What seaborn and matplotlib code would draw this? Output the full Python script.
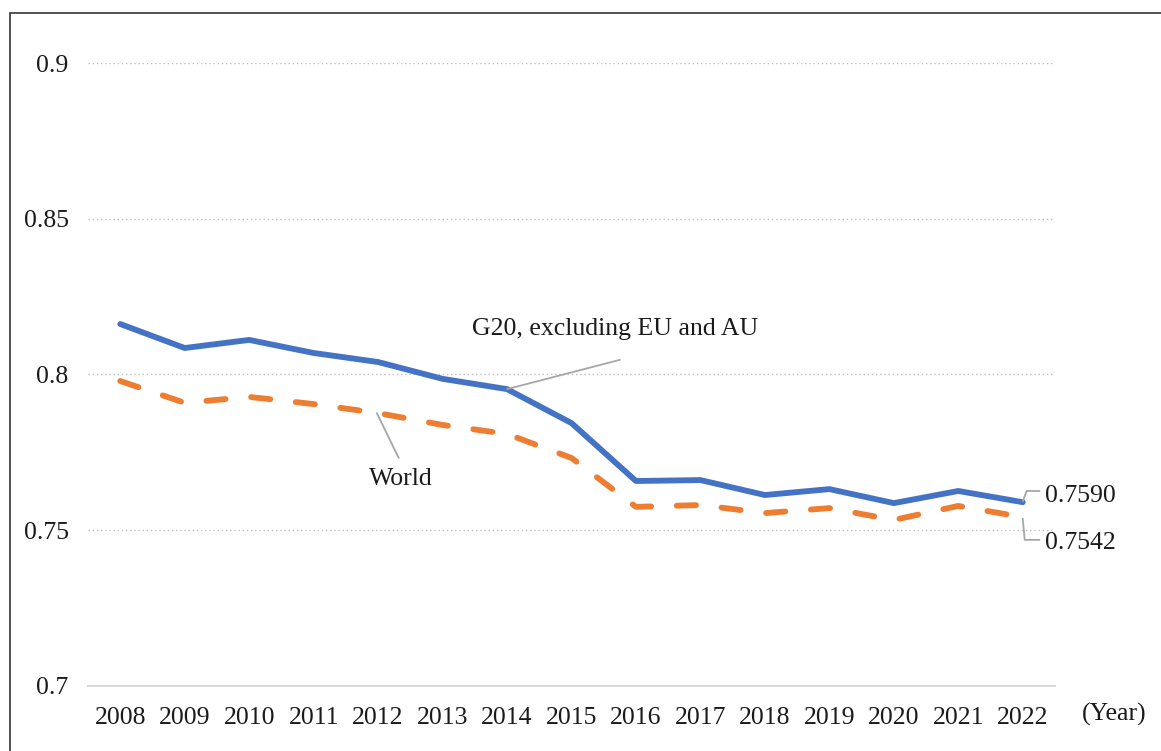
import pandas as pd
import seaborn as sns
import matplotlib.pyplot as plt
from matplotlib.patches import Rectangle

anos = list(range(2008, 2023))
g20 = [0.8162, 0.8085, 0.8111, 0.8069, 0.8040, 0.7986, 0.7953, 0.7844,
       0.7658, 0.7661, 0.7613, 0.7632, 0.7587, 0.7626, 0.7590]
mundo = [0.7979, 0.7909, 0.7928, 0.7905, 0.7876, 0.7838, 0.7809, 0.7732,
         0.7575, 0.7581, 0.7555, 0.7571, 0.7533, 0.7578, 0.7542]
yticks = [0.7, 0.75, 0.8, 0.85, 0.9]
ytick_labels = ['0.7', '0.75', '0.8', '0.85', '0.9']

df = pd.DataFrame({'Ano': anos, 'G20': g20, 'Mundo': mundo})

azul = '#4472C4'
laranja = '#ED7D31'
cinza = '#A6A6A6'
texto = '#1a1a1a'
fs = 18.5

sns.set_theme(style="white")
plt.rcParams['font.family'] = ['Liberation Serif', 'DejaVu Serif']

fig = plt.figure(figsize=(11.61, 7.51), dpi=100)
ax = fig.add_axes([0.0758, 0.0866, 0.9087 - 0.0758, 0.9161 - 0.0866])

sns.lineplot(data=df, x='Ano', y='G20', color=azul, linewidth=4.2, ax=ax,
             solid_capstyle='round')
sns.lineplot(data=df, x='Ano', y='Mundo', color=laranja, linewidth=4.2, ax=ax,
             dashes=False)
ax.lines[-1].set_dashes((3.3, 4.4))
ax.lines[-1].set_dash_capstyle('round')

ax.set_xlim(2007.5, 2022.5)
ax.set_ylim(0.7, 0.9)
ax.set_xticks(anos)
ax.set_xticklabels([str(a) for a in anos])
ax.set_yticks(yticks)
ax.set_yticklabels(ytick_labels)
ax.tick_params(axis='both', length=0, labelsize=fs, colors=texto)
ax.tick_params(axis='x', pad=15)
ax.tick_params(axis='y', pad=14)
ax.set_xlabel('')
ax.set_ylabel('')

for s in ['top', 'right', 'left']:
    ax.spines[s].set_visible(False)
ax.spines['bottom'].set_color('#D9D9D9')
ax.spines['bottom'].set_linewidth(1.5)

for v in yticks[1:]:
    ax.axhline(v, color='#BFBFBF', linestyle=(0, (1, 2)), linewidth=1.0, zorder=0)

# rotulos das series
ax.plot([2014.0, 2015.75], [g20[6], 0.8047], color=cinza, lw=1.3, zorder=3)
ax.text(2015.67, 0.8145, 'G20, excluding EU and AU', ha='center', va='center',
        fontsize=fs, color=texto)
ax.plot([2011.98, 2012.32], [mundo[4], 0.7732], color=cinza, lw=1.3, zorder=3)
ax.text(2012.35, 0.7665, 'World', ha='center', va='center', fontsize=fs, color=texto)

# valores finais com conector em cotovelo
ax.plot([2022.0, 2022.06, 2022.26], [g20[-1] + 0.0003, 0.7626, 0.7626],
        color=cinza, lw=1.3, clip_on=False)
ax.text(2022.34, 0.7610, '0.7590', ha='left', va='center', fontsize=fs, color=texto)
ax.plot([2022.0, 2022.03, 2022.26], [mundo[-1] - 0.0005, 0.7469, 0.7469],
        color=cinza, lw=1.3, clip_on=False)
ax.text(2022.34, 0.7459, '0.7542', ha='left', va='center', fontsize=fs, color=texto)

fig.text(1114 / 1161, 1 - 714 / 751, '(Year)', ha='center', va='center',
         fontsize=fs, color=texto)

fig.patches.append(Rectangle((10 / 1161, -0.05), 1.2, 1 - 13 / 751 + 0.05,
                             transform=fig.transFigure, fill=False,
                             edgecolor='#333333', linewidth=1.2))

fig.savefig('out.png', dpi=100)
